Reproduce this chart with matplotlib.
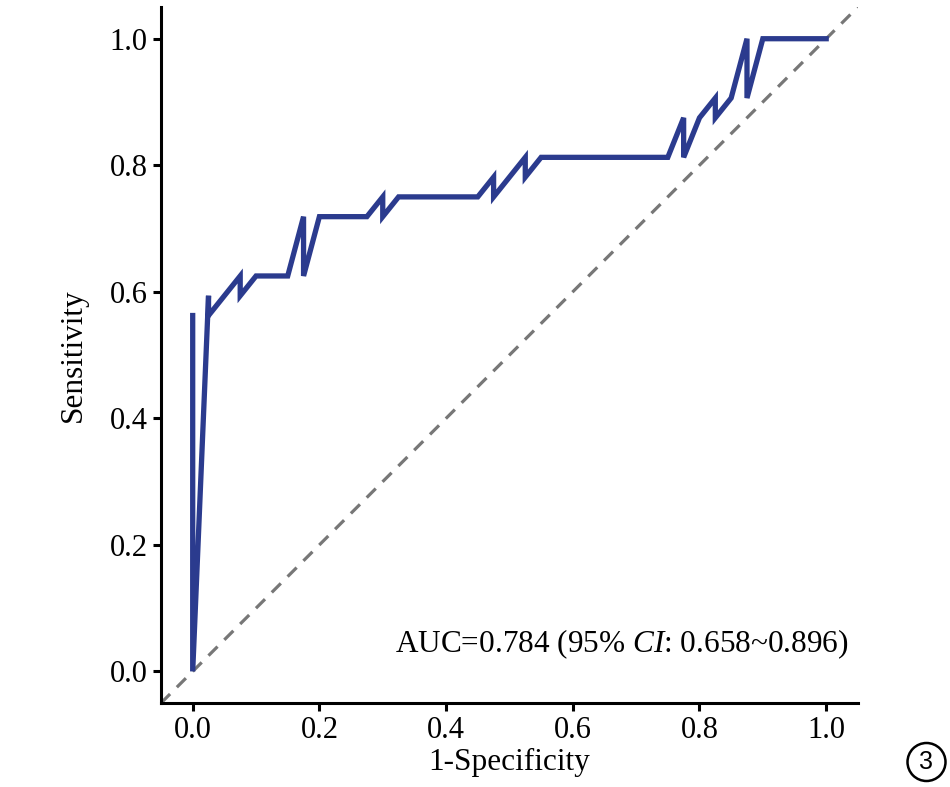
import numpy as np
import matplotlib
matplotlib.use("Agg")
import matplotlib.pyplot as plt

# ROC vertices (drawn in this order)
fpr = [0.0, 0.0, 0.025, 0.025, 0.075, 0.075, 0.1, 0.15, 0.175, 0.175, 0.2,
       0.275, 0.3, 0.3, 0.325, 0.45, 0.475, 0.475, 0.525, 0.525, 0.55,
       0.75, 0.775, 0.775, 0.8, 0.825, 0.825, 0.85, 0.875, 0.875, 0.9, 1.0]
tpr = [0.5625, 0.0, 0.59375, 0.5625, 0.625, 0.59375, 0.625, 0.625, 0.71875,
       0.625, 0.71875, 0.71875, 0.75, 0.71875, 0.75, 0.75, 0.78125, 0.75,
       0.8125, 0.78125, 0.8125, 0.8125, 0.875, 0.8125, 0.875, 0.90625,
       0.875, 0.90625, 1.0, 0.90625, 1.0, 1.0]
ticks = [0.0, 0.2, 0.4, 0.6, 0.8, 1.0]
auc_label = "AUC=0.784 (95% $\\mathit{CI}$: 0.658~0.896)"

plt.rcParams['font.family'] = ['Liberation Serif', 'DejaVu Serif']
plt.rcParams['mathtext.fontset'] = 'custom'
plt.rcParams['mathtext.it'] = 'Liberation Serif:italic'
plt.rcParams['mathtext.rm'] = 'Liberation Serif'

fig = plt.figure(figsize=(9.5, 7.87), dpi=100)
ax = fig.add_axes([0.1695, 0.1067, 0.7335, 0.8843])

lims = (-0.05, 1.05)
ax.plot(lims, lims, linestyle=(0, (4, 3)), color='#777777', lw=2.3, zorder=1)
ax.plot(fpr, tpr, color='#2b3b8e', lw=3.8, solid_joinstyle='miter', zorder=2)

ax.set_xlim(lims)
ax.set_ylim(lims)
ax.set_xticks(ticks)
ax.set_yticks(ticks)
ax.set_xticklabels([f"{t:.1f}" for t in ticks])
ax.set_yticklabels([f"{t:.1f}" for t in ticks])
ax.tick_params(direction='out', length=5.5, width=2.2, labelsize=22, pad=4, color='black')
for side in ['top', 'right']:
    ax.spines[side].set_visible(False)
for side in ['left', 'bottom']:
    ax.spines[side].set_linewidth(2.2)

ax.set_xlabel("1-Specificity", fontsize=22.5, labelpad=2)
ax.set_ylabel("Sensitivity", fontsize=22.5, labelpad=16)

ax.text(1.035, 0.043, auc_label, fontsize=22.5, ha='right', va='center')

# circled panel number
fig.text(926.5 / 950, 1 - 762 / 787, "3", fontsize=18, family='Liberation Sans',
         ha='center', va='center',
         bbox=dict(boxstyle='circle,pad=0.28', fc='none', ec='black', lw=1.8))

fig.savefig("out.png", dpi=100)
